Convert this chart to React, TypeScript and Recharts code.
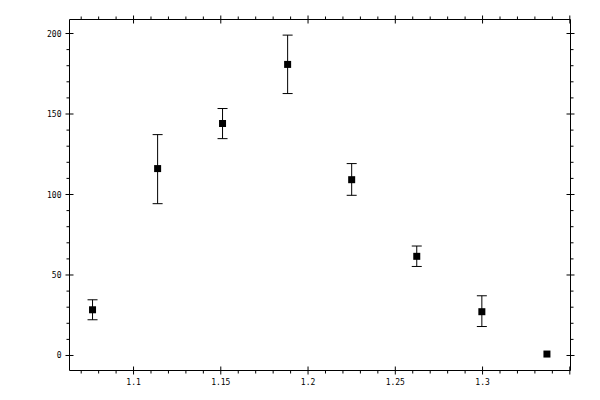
import { ErrorBar, Scatter, ScatterChart, XAxis, YAxis } from 'recharts'

const X_VALUES = [1.0765, 1.1138, 1.151, 1.1883, 1.225, 1.2623, 1.2996, 1.3369]
const Y_VALUES = [28.4, 116.1, 144.1, 180.8, 109.2, 61.6, 27.2, 0.9]
const Y_LOWER = [22.2, 94.3, 134.7, 162.7, 99.5, 55.3, 18.0, 0.9]
const Y_UPPER = [34.6, 137.2, 153.4, 199.0, 119.2, 68.0, 37.1, 0.9]

const X_TICKS = [
  1.07, 1.08, 1.09, 1.1, 1.11, 1.12, 1.13, 1.14, 1.15, 1.16, 1.17, 1.18, 1.19, 1.2, 1.21,
  1.22, 1.23, 1.24, 1.25, 1.26, 1.27, 1.28, 1.29, 1.3, 1.31, 1.32, 1.33, 1.34, 1.35,
]
const Y_TICKS = [0, 10, 20, 30, 40, 50, 60, 70, 80, 90, 100, 110, 120, 130, 140, 150, 160, 170, 180, 190, 200]
const X_LABELS: Record<string, string> = { '110': '1.1', '115': '1.15', '120': '1.2', '125': '1.25', '130': '1.3' }

const X_DOMAIN: [number, number] = [1.0633, 1.3504]
const Y_DOMAIN: [number, number] = [-9.32, 208.7]

// points whose interval collapses to the marker get no error bar
const data = X_VALUES.map((x, i) => ({
  x,
  y: Y_VALUES[i],
  err:
    Y_UPPER[i] - Y_LOWER[i] > 0
      ? [Y_VALUES[i] - Y_LOWER[i], Y_UPPER[i] - Y_VALUES[i]]
      : undefined,
}))

const FONT = { fontFamily: '"DejaVu Sans Mono", monospace', fontSize: 8, fill: '#000' }

const isMajorX = (v: number) => Math.round(v * 100) % 5 === 0
const isMajorY = (v: number) => Math.round(v) % 50 === 0

function BottomTick({ x, y, payload }: any) {
  const v = payload.value as number
  if (isMajorX(v)) {
    return (
      <g>
        <line x1={x} x2={x} y1={y - 4} y2={y + 4} stroke="#000" />
        <text x={x} y={y + 14} textAnchor="middle" style={FONT}>
          {X_LABELS[String(Math.round(v * 100))]}
        </text>
      </g>
    )
  }
  return <line x1={x} x2={x} y1={y} y2={y + 3} stroke="#000" />
}

function TopTick({ x, y, payload }: any) {
  const v = payload.value as number
  if (isMajorX(v)) return <line x1={x} x2={x} y1={y - 4} y2={y + 4} stroke="#000" />
  return <line x1={x} x2={x} y1={y - 3} y2={y} stroke="#000" />
}

function LeftTick({ x, y, payload }: any) {
  const v = payload.value as number
  if (isMajorY(v)) {
    return (
      <g>
        <line x1={x - 4} x2={x + 4} y1={y} y2={y} stroke="#000" />
        <text x={x - 8} y={y + 3} textAnchor="end" style={FONT}>
          {v}
        </text>
      </g>
    )
  }
  return <line x1={x - 3} x2={x} y1={y} y2={y} stroke="#000" />
}

function RightTick({ x, y, payload }: any) {
  const v = payload.value as number
  if (isMajorY(v)) return <line x1={x - 4} x2={x + 4} y1={y} y2={y} stroke="#000" />
  return <line x1={x} x2={x + 3} y1={y} y2={y} stroke="#000" />
}

function SquareDot({ cx, cy }: any) {
  return <rect x={cx - 3.5} y={cy - 3.5} width={7} height={7} fill="#000" />
}

export default function App() {
  return (
    <div style={{ position: 'absolute', left: 0, top: 0, width: 600, height: 400, background: '#fff' }}>
      <ScatterChart width={600} height={400} margin={{ top: 18.5, right: 28.5, bottom: 28.5, left: 68.5 }}>
        <XAxis
          type="number"
          dataKey="x"
          domain={X_DOMAIN}
          allowDataOverflow
          ticks={X_TICKS}
          interval={0}
          height={1}
          tickSize={0}
          tickMargin={0}
          tickLine={false}
          axisLine={{ stroke: '#000' }}
          tick={BottomTick}
        />
        <XAxis
          xAxisId="top"
          orientation="top"
          type="number"
          dataKey="x"
          domain={X_DOMAIN}
          allowDataOverflow
          ticks={X_TICKS}
          interval={0}
          height={1}
          tickSize={0}
          tickMargin={0}
          tickLine={false}
          axisLine={{ stroke: '#000' }}
          tick={TopTick}
        />
        <YAxis
          type="number"
          dataKey="y"
          domain={Y_DOMAIN}
          allowDataOverflow
          ticks={Y_TICKS}
          interval={0}
          width={1}
          tickSize={0}
          tickMargin={0}
          tickLine={false}
          axisLine={{ stroke: '#000' }}
          tick={LeftTick}
        />
        <YAxis
          yAxisId="right"
          orientation="right"
          type="number"
          dataKey="y"
          domain={Y_DOMAIN}
          allowDataOverflow
          ticks={Y_TICKS}
          interval={0}
          width={1}
          tickSize={0}
          tickMargin={0}
          tickLine={false}
          axisLine={{ stroke: '#000' }}
          tick={RightTick}
        />
        <Scatter data={data} shape={SquareDot} isAnimationActive={false}>
          <ErrorBar dataKey="err" direction="y" width={5} stroke="#000" strokeWidth={1} isAnimationActive={false} />
        </Scatter>
      </ScatterChart>
    </div>
  )
}
